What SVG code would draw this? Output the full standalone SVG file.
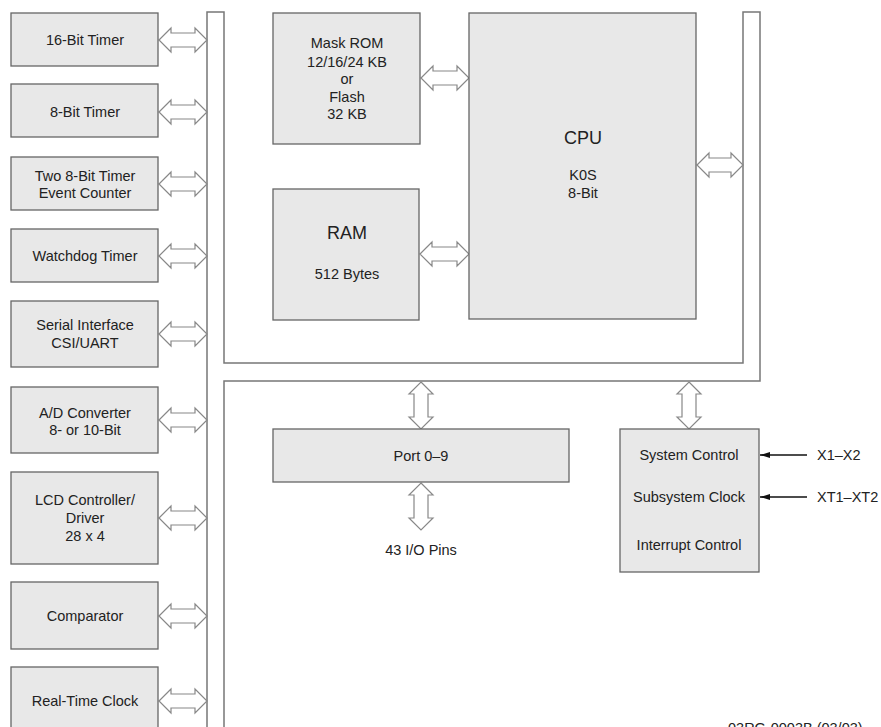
<svg xmlns="http://www.w3.org/2000/svg" width="881" height="727" viewBox="0 0 881 727">
<defs>
<style>
.box{fill:#e8e8e8;stroke:#666;stroke-width:1.3}
.bus{fill:none;stroke:#777;stroke-width:1.5}
.dbl{fill:#fff;stroke:#888;stroke-width:1.2;stroke-linejoin:miter}
text{font-family:"Liberation Sans",Arial,sans-serif;font-size:14.5px;fill:#222;text-anchor:middle}
.big{font-size:18px}
.lbl{text-anchor:start}
.sig{stroke:#111;stroke-width:1.5;fill:none}
</style>
<marker id="ah" viewBox="0 0 10 6" refX="10" refY="3" markerWidth="10" markerHeight="6" markerUnits="userSpaceOnUse" orient="auto">
<path d="M0,0 L10,3 L0,6 Z" fill="#111"/>
</marker>
</defs>
<rect width="881" height="727" fill="#fff"/>

<g id="connectors">
<path class="bus" d="M207,727 L207,12 L224,12 L224,363 L743,363 L743,12 L760,12 L760,381 L224,381 L224,727"/>
<!-- left side bus arrows -->
<path class="dbl" d="M159,40 l12,-12 v5 h24 v-5 l12,12 l-12,12 v-5 h-24 v5 z"/>
<path class="dbl" d="M159,112 l12,-12 v5 h24 v-5 l12,12 l-12,12 v-5 h-24 v5 z"/>
<path class="dbl" d="M159,184 l12,-12 v5 h24 v-5 l12,12 l-12,12 v-5 h-24 v5 z"/>
<path class="dbl" d="M159,256 l12,-12 v5 h24 v-5 l12,12 l-12,12 v-5 h-24 v5 z"/>
<path class="dbl" d="M159,334 l12,-12 v5 h24 v-5 l12,12 l-12,12 v-5 h-24 v5 z"/>
<path class="dbl" d="M159,420 l12,-12 v5 h24 v-5 l12,12 l-12,12 v-5 h-24 v5 z"/>
<path class="dbl" d="M159,518 l12,-12 v5 h24 v-5 l12,12 l-12,12 v-5 h-24 v5 z"/>
<path class="dbl" d="M159,616 l12,-12 v5 h24 v-5 l12,12 l-12,12 v-5 h-24 v5 z"/>
<path class="dbl" d="M159,701 l12,-12 v5 h24 v-5 l12,12 l-12,12 v-5 h-24 v5 z"/>
<!-- ROM / RAM to CPU -->
<path class="dbl" d="M421,78 l12,-12 v5 h24 v-5 l12,12 l-12,12 v-5 h-24 v5 z"/>
<path class="dbl" d="M420,254 l12,-12 v5 h25 v-5 l12,12 l-12,12 v-5 h-25 v5 z"/>
<!-- CPU to bus -->
<path class="dbl" d="M697,165 l12,-12 v5 h22 v-5 l12,12 l-12,12 v-5 h-22 v5 z"/>
<!-- vertical arrows -->
<path class="dbl" d="M421,382 l12,12 h-5 v23 h5 l-12,12 l-12,-12 h5 v-23 h-5 z"/>
<path class="dbl" d="M421,483 l12,12 h-5 v23 h5 l-12,12 l-12,-12 h5 v-23 h-5 z"/>
<path class="dbl" d="M689,382 l12,12 h-5 v23 h5 l-12,12 l-12,-12 h5 v-23 h-5 z"/>
<!-- clock inputs -->
<line class="sig" x1="807" y1="455" x2="760" y2="455" marker-end="url(#ah)"/>
<line class="sig" x1="807" y1="497" x2="760" y2="497" marker-end="url(#ah)"/>
</g>

<g id="timer16"><rect class="box" x="11" y="13" width="147" height="53"/><text x="85" y="45">16-Bit Timer</text></g>
<g id="timer8"><rect class="box" x="11" y="84" width="147" height="53"/><text x="85" y="117">8-Bit Timer</text></g>
<g id="timer8x2"><rect class="box" x="11" y="157" width="147" height="53"/><text x="85" y="181">Two 8-Bit Timer</text><text x="85" y="198">Event Counter</text></g>
<g id="watchdog"><rect class="box" x="11" y="229" width="147" height="53"/><text x="85" y="261">Watchdog Timer</text></g>
<g id="serial"><rect class="box" x="11" y="301" width="147" height="66"/><text x="85" y="330">Serial Interface</text><text x="85" y="348">CSI/UART</text></g>
<g id="adc"><rect class="box" x="11" y="387" width="147" height="66"/><text x="85" y="418">A/D Converter</text><text x="85" y="435">8- or 10-Bit</text></g>
<g id="lcd"><rect class="box" x="11" y="472" width="147" height="92"/><text x="85" y="505">LCD Controller/</text><text x="85" y="523">Driver</text><text x="85" y="541">28 x 4</text></g>
<g id="comparator"><rect class="box" x="11" y="582" width="147" height="67"/><text x="85" y="621">Comparator</text></g>
<g id="rtc"><rect class="box" x="11" y="667" width="147" height="70"/><text x="85" y="706">Real-Time Clock</text></g>

<g id="rom"><rect class="box" x="273" y="13" width="147" height="131"/>
<text x="347" y="48">Mask ROM</text><text x="347" y="67">12/16/24 KB</text><text x="347" y="84">or</text><text x="347" y="102">Flash</text><text x="347" y="119">32 KB</text></g>
<g id="ram"><rect class="box" x="273" y="189" width="146" height="131"/>
<text class="big" x="347" y="239">RAM</text><text x="347" y="279">512 Bytes</text></g>
<g id="cpu"><rect class="box" x="469" y="13" width="227" height="306"/>
<text class="big" x="583" y="144">CPU</text><text x="583" y="180">K0S</text><text x="583" y="198">8-Bit</text></g>
<g id="port"><rect class="box" x="273" y="429" width="296" height="53"/><text x="421" y="461">Port 0–9</text></g>
<g id="pins"><text x="421" y="555">43 I/O Pins</text></g>
<g id="sysctrl"><rect class="box" x="620" y="429" width="139" height="143"/>
<text x="689" y="460">System Control</text><text x="689" y="502">Subsystem Clock</text><text x="689" y="550">Interrupt Control</text></g>
<g id="x1x2"><text class="lbl" x="817" y="460">X1–X2</text></g>
<g id="xt1xt2"><text class="lbl" x="817" y="502">XT1–XT2</text></g>
<text class="lbl" x="728" y="733">03RG-0003B (03/03)</text>
</svg>
